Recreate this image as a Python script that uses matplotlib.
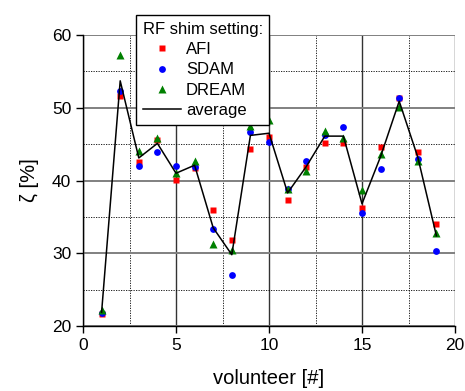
import numpy as np
import matplotlib
matplotlib.use('Agg')
import matplotlib.pyplot as plt
from matplotlib.ticker import MultipleLocator

plt.rcParams['font.family'] = ['Liberation Sans', 'DejaVu Sans']

# values
volunteer = list(range(1, 20))
afi = [21.6, 51.6, 42.6, 45.5, 40.1, 41.7, 36.0, 31.8, 44.3, 46.0,
       37.3, 41.8, 45.2, 45.1, 36.2, 44.6, 51.3, 43.9, 34.0]
sdam = [21.8, 52.3, 42.0, 43.9, 42.0, 41.9, 33.3, 27.0, 46.7, 45.3,
        38.9, 42.7, 46.3, 47.3, 35.5, 41.6, 51.3, 42.9, 30.3]
dream = [22.2, 57.2, 44.0, 45.8, 41.0, 42.7, 31.3, 30.4, 47.5, 48.3,
         38.8, 41.3, 46.8, 45.9, 38.7, 43.6, 50.1, 42.7, 32.8]
average = [21.9, 53.7, 43.1, 45.1, 41.0, 42.1, 33.5, 29.8, 46.2, 46.5,
           38.3, 41.9, 46.1, 46.1, 36.8, 43.3, 50.9, 43.2, 32.4]

fig = plt.figure(figsize=(4.65, 3.91), dpi=100)
ax = fig.add_axes([0.1785, 0.1662, 0.8, 0.7443])

ax.plot(volunteer, afi, 's', color='#ff0000', ms=4.2, mec='none', label='AFI')
ax.plot(volunteer, sdam, 'o', color='#0000ff', ms=4.9, mec='none', label='SDAM')
ax.plot(volunteer, dream, '^', color='#008000', ms=5.6, mec='none', label='DREAM')
ax.plot(volunteer, average, '-', color='black', lw=1.1, label='average')

ax.set_xlim(0, 20)
ax.set_ylim(20, 60)
ax.xaxis.set_major_locator(MultipleLocator(5))
ax.yaxis.set_major_locator(MultipleLocator(10))
ax.xaxis.set_minor_locator(MultipleLocator(2.5))
ax.yaxis.set_minor_locator(MultipleLocator(5))

ax.grid(which='major', axis='y', color='#808080', lw=1.4, ls='-')
ax.grid(which='major', axis='x', color='#333333', lw=1.0, ls='-')
ax.grid(which='minor', color='black', lw=0.6, ls=(0, (1.5, 1.5)))
ax.set_axisbelow(True)

for s in ['top', 'right']:
    ax.spines[s].set_visible(False)
ax.spines['left'].set_linewidth(1.0)
ax.spines['bottom'].set_linewidth(1.0)
ax.tick_params(which='major', direction='out', length=5, width=1, labelsize=12.5)
ax.tick_params(which='minor', length=0)

ax.set_xlabel('volunteer [#]', fontsize=14.5, labelpad=12)
ax.set_ylabel('ζ [%]', fontsize=14.5, labelpad=9)

leg = ax.legend(title='RF shim setting:', loc='upper left',
                bbox_to_anchor=(0.12, 1.097), fontsize=12,
                title_fontsize=12, frameon=True, fancybox=False,
                edgecolor='black', framealpha=1, handlelength=2.3,
                handletextpad=0.3, labelspacing=0.32, borderpad=0.4)
leg._legend_box.align = 'left'
leg.get_frame().set_linewidth(1.0)
leg.set_zorder(5)

fig.savefig('out.png', dpi=100)
